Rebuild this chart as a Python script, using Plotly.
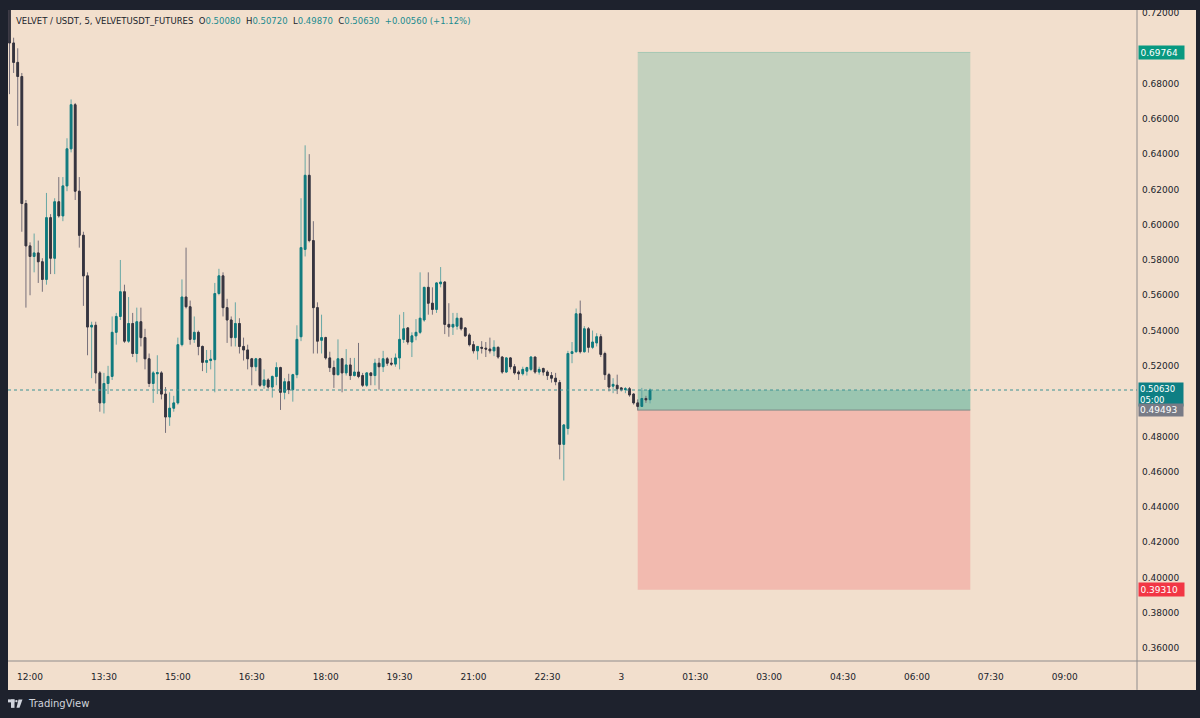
import pandas as pd
import plotly.graph_objects as go

# ---------------- data ----------------
start_time = "2025-06-02 11:35"
opens = [0.722,0.703,0.692,0.684,0.612,0.588,0.582,0.584,0.579,0.569,
         0.604,0.581,0.613,0.605,0.622,0.643,0.668,0.619,0.594,0.571,
         0.542,0.543,0.516,0.499,0.510,0.514,0.539,0.548,0.562,0.534,
         0.544,0.527,0.545,0.536,0.524,0.510,0.5155,0.516,0.504,0.491,
         0.496,0.499,0.532,0.559,0.5535,0.535,0.539,0.531,0.522,0.523,
         0.5235,0.561,0.571,0.553,0.546,0.536,0.544,0.531,0.529,0.524,
         0.5195,0.524,0.509,0.512,0.508,0.514,0.519,0.505,0.511,0.5065,
         0.515,0.5365,0.586,0.628,0.591,0.553,0.5345,0.536,0.5245,0.519,
         0.515,0.524,0.516,0.5205,0.5145,0.5165,0.5145,0.509,0.516,0.5145,
         0.5215,0.5195,0.524,0.5215,0.521,0.5245,0.535,0.5415,0.5335,0.537,
         0.539,0.546,0.5645,0.5555,0.552,0.5665,0.5675,0.5435,0.542,0.5425,
         0.547,0.5415,0.5375,0.532,0.5285,0.5305,0.530,0.5295,0.5285,0.5305,
         0.525,0.5165,0.5245,0.5195,0.5165,0.5155,0.517,0.518,0.525,0.5165,
         0.5185,0.5165,0.5145,0.513,0.5105,0.4755,0.4845,0.527,0.528,0.5495,
         0.528,0.541,0.5305,0.533,0.5365,0.527,0.515,0.5085,0.509,0.5075,
         0.5065,0.507,0.504,0.499,0.497,0.5015,0.5008]
highs = [0.730,0.706,0.700,0.686,0.614,0.590,0.595,0.591,0.581,0.618,
         0.606,0.615,0.627,0.627,0.649,0.671,0.669,0.627,0.596,0.573,
         0.545,0.545,0.517,0.516,0.520,0.548,0.550,0.580,0.566,0.559,
         0.550,0.553,0.553,0.541,0.527,0.517,0.526,0.517,0.508,0.505,
         0.503,0.536,0.569,0.587,0.557,0.548,0.540,0.5315,0.529,0.529,
         0.567,0.575,0.573,0.558,0.548,0.556,0.547,0.536,0.532,0.5245,
         0.5245,0.5245,0.518,0.513,0.5145,0.522,0.5195,0.513,0.5155,0.5155,
         0.543,0.615,0.645,0.640,0.602,0.556,0.549,0.5365,0.528,0.523,
         0.535,0.5245,0.5295,0.5245,0.5245,0.533,0.516,0.5165,0.516,0.524,
         0.5245,0.5285,0.525,0.5245,0.527,0.549,0.5505,0.542,0.539,0.5465,
         0.573,0.5645,0.573,0.5645,0.5675,0.576,0.568,0.5555,0.550,0.550,
         0.547,0.542,0.5385,0.534,0.531,0.534,0.5335,0.536,0.5345,0.531,
         0.5255,0.525,0.525,0.521,0.5175,0.5195,0.5195,0.5255,0.525,0.5195,
         0.519,0.5175,0.5165,0.516,0.512,0.487,0.5285,0.5335,0.5525,0.557,
         0.5425,0.542,0.540,0.5385,0.538,0.528,0.516,0.513,0.515,0.508,
         0.508,0.508,0.5045,0.501,0.5075,0.503,0.5072]
lows = [0.674,0.686,0.656,0.596,0.553,0.560,0.573,0.567,0.562,0.566,
        0.572,0.572,0.604,0.602,0.619,0.641,0.614,0.587,0.554,0.526,
        0.513,0.510,0.494,0.493,0.504,0.512,0.532,0.546,0.533,0.533,
        0.525,0.522,0.531,0.518,0.508,0.499,0.504,0.501,0.482,0.486,
        0.494,0.498,0.531,0.5525,0.532,0.533,0.526,0.517,0.516,0.518,
        0.505,0.560,0.548,0.533,0.531,0.531,0.527,0.523,0.518,0.509,
        0.517,0.508,0.507,0.507,0.502,0.509,0.495,0.501,0.504,0.4997,
        0.513,0.534,0.582,0.590,0.527,0.527,0.527,0.5235,0.5165,0.5075,
        0.5145,0.505,0.5145,0.512,0.514,0.513,0.508,0.508,0.509,0.509,
        0.5065,0.5165,0.520,0.520,0.5195,0.518,0.533,0.532,0.525,0.5345,
        0.538,0.545,0.549,0.549,0.550,0.5645,0.538,0.5365,0.5375,0.5405,
        0.540,0.5365,0.531,0.527,0.5235,0.527,0.525,0.527,0.5255,0.524,
        0.5155,0.516,0.518,0.515,0.512,0.5145,0.5145,0.517,0.5155,0.515,
        0.5145,0.512,0.5105,0.509,0.467,0.455,0.481,0.5215,0.5275,0.527,
        0.5275,0.5275,0.5295,0.531,0.525,0.512,0.5055,0.5045,0.504,0.5055,
        0.5045,0.5025,0.498,0.4947,0.4967,0.499,0.4987]
closes = [0.703,0.692,0.684,0.612,0.588,0.582,0.584,0.579,0.569,0.604,
          0.581,0.613,0.605,0.622,0.643,0.668,0.619,0.594,0.571,0.542,
          0.543,0.516,0.499,0.510,0.514,0.539,0.548,0.562,0.534,0.544,
          0.527,0.545,0.536,0.524,0.510,0.516,0.5162,0.504,0.491,0.496,
          0.499,0.532,0.559,0.5535,0.535,0.539,0.531,0.522,0.523,0.5238,
          0.561,0.571,0.553,0.546,0.536,0.544,0.531,0.529,0.524,0.5195,
          0.524,0.509,0.512,0.508,0.514,0.519,0.505,0.511,0.5065,0.515,
          0.535,0.587,0.628,0.591,0.553,0.534,0.536,0.5245,0.519,0.515,
          0.524,0.516,0.5205,0.5145,0.5165,0.514,0.509,0.516,0.5145,0.5215,
          0.5195,0.524,0.5215,0.521,0.5245,0.535,0.541,0.5335,0.537,0.539,
          0.547,0.5645,0.5555,0.552,0.567,0.5675,0.5435,0.542,0.5435,0.547,
          0.541,0.537,0.532,0.5285,0.531,0.530,0.5295,0.5285,0.5305,0.525,
          0.5165,0.5245,0.5195,0.516,0.5155,0.518,0.519,0.525,0.5165,0.518,
          0.5165,0.5145,0.513,0.511,0.4755,0.4865,0.527,0.528,0.5495,0.528,
          0.541,0.5305,0.5335,0.5365,0.5265,0.515,0.508,0.5095,0.507,0.5065,
          0.507,0.5035,0.499,0.497,0.5015,0.5007,0.5063]

# long-position tool
pos_start = "2025-06-03 00:20"
pos_end = "2025-06-03 07:05"
entry_price = 0.49493
target_price = 0.69764
stop_price = 0.39310
last_price = 0.50630
countdown = "05:00"

x_tick_vals = ["2025-06-02 12:00", "2025-06-02 13:30", "2025-06-02 15:00", "2025-06-02 16:30",
               "2025-06-02 18:00", "2025-06-02 19:30", "2025-06-02 21:00", "2025-06-02 22:30",
               "2025-06-03 00:00", "2025-06-03 01:30", "2025-06-03 03:00", "2025-06-03 04:30",
               "2025-06-03 06:00", "2025-06-03 07:30", "2025-06-03 09:00"]
x_tick_text = ["12:00", "13:30", "15:00", "16:30", "18:00", "19:30", "21:00", "22:30",
               "3", "01:30", "03:00", "04:30", "06:00", "07:30", "09:00"]
# 0.50000 and 0.70000 are hidden behind the price labels in the original
y_tick_vals = [0.36, 0.38, 0.40, 0.42, 0.44, 0.46, 0.48, 0.52, 0.54,
               0.56, 0.58, 0.60, 0.62, 0.64, 0.66, 0.68, 0.72]

times = pd.date_range(start_time, periods=len(closes), freq="5min")

# ---------------- style ----------------
W, H = 1200, 718
ML, MR, MT, MB = 8, 63, 8, 57
PW, PH = W - ML - MR, H - MT - MB
FONT = "DejaVu Sans"
PEACH = "#f2dfcd"
DARK = "#1e222d"
UP_BODY, UP_WICK = "#0f7a7e", "#66a7a5"
DN_BODY, DN_WICK = "#37353f", "#77707a"
TEAL_TXT = "#1b8b8f"
TXT = "#20232b"


def px(xp):
    return (xp - ML) / PW


def py(yp):
    return (H - MB - yp) / PH


fig = go.Figure()

# wicks (full range)
fig.add_trace(go.Candlestick(
    x=times, open=opens, high=highs, low=lows, close=closes,
    increasing=dict(line=dict(color=UP_WICK, width=1), fillcolor=UP_WICK),
    decreasing=dict(line=dict(color=DN_WICK, width=1), fillcolor=DN_WICK),
    hoverinfo="skip", showlegend=False))
# bodies
body_hi = [max(o, c) for o, c in zip(opens, closes)]
body_lo = [min(o, c) for o, c in zip(opens, closes)]
fig.add_trace(go.Candlestick(
    x=times, open=opens, high=body_hi, low=body_lo, close=closes,
    increasing=dict(line=dict(color=UP_BODY, width=1), fillcolor=UP_BODY),
    decreasing=dict(line=dict(color=DN_BODY, width=1), fillcolor=DN_BODY),
    hoverinfo="skip", showlegend=False))

shapes = [
    dict(type="rect", xref="paper", yref="paper", x0=0, x1=px(1196), y0=py(690), y1=1,
         fillcolor=PEACH, line=dict(width=0), layer="below"),
    dict(type="line", xref="paper", yref="paper", x0=1, x1=1, y0=py(690), y1=1,
         line=dict(color="#8f8c8c", width=1)),
    dict(type="line", xref="paper", yref="paper", x0=0, x1=px(1196), y0=0, y1=0,
         line=dict(color="#8f8c8c", width=1)),
    dict(type="rect", xref="x", yref="y", x0=pos_start, x1=pos_end, y0=entry_price, y1=target_price,
         fillcolor="rgba(8,153,129,0.2)", line=dict(width=0), layer="below"),
    dict(type="rect", xref="x", yref="y", x0=pos_start, x1=pos_end, y0=stop_price, y1=entry_price,
         fillcolor="rgba(242,54,69,0.22)", line=dict(width=0), layer="below"),
    dict(type="rect", xref="x", yref="y", x0=pos_start, x1=pos_end, y0=entry_price, y1=last_price,
         fillcolor="rgba(8,153,129,0.22)", line=dict(width=0), layer="below"),
    dict(type="line", xref="x", yref="y", x0=pos_start, x1=pos_end, y0=target_price, y1=target_price,
         line=dict(color="rgba(8,153,129,0.25)", width=1)),
    dict(type="line", xref="x", yref="y", x0=pos_start, x1=pos_end, y0=entry_price, y1=entry_price,
         line=dict(color="#7d8a87", width=1)),
    dict(type="line", xref="paper", yref="y", x0=0, x1=1, y0=last_price, y1=last_price,
         line=dict(color="#3d9294", width=1, dash="dot")),
    # TradingView logo
    dict(type="rect", xref="paper", yref="paper", x0=px(8), x1=px(14.5), y0=py(702.5), y1=py(699.5),
         fillcolor="#d1d4dc", line=dict(width=0)),
    dict(type="rect", xref="paper", yref="paper", x0=px(11), x1=px(14.5), y0=py(708), y1=py(699.5),
         fillcolor="#d1d4dc", line=dict(width=0)),
    dict(type="circle", xref="paper", yref="paper", x0=px(15.2), x1=px(17.6), y0=py(702.4), y1=py(700),
         fillcolor="#d1d4dc", line=dict(width=0)),
    dict(type="path", xref="paper", yref="paper",
         path=f"M {px(18.5)} {py(699.5)} L {px(22.5)} {py(699.5)} L {px(19.5)} {py(708)} L {px(16.5)} {py(708)} Z",
         fillcolor="#d1d4dc", line=dict(width=0)),
]

chg = closes[-1] - closes[-2]
header = (f"<span style='color:{TXT}'>VELVET / USDT, 5, VELVETUSDT_FUTURES&nbsp;&nbsp;O</span>"
          f"<span style='color:{TEAL_TXT}'>{opens[-1]:.5f}</span>"
          f"<span style='color:{TXT}'>&nbsp;&nbsp;H</span><span style='color:{TEAL_TXT}'>{highs[-1]:.5f}</span>"
          f"<span style='color:{TXT}'>&nbsp;&nbsp;L</span><span style='color:{TEAL_TXT}'>{lows[-1]:.5f}</span>"
          f"<span style='color:{TXT}'>&nbsp;&nbsp;C</span><span style='color:{TEAL_TXT}'>{closes[-1]:.5f}</span>"
          f"<span style='color:{TEAL_TXT}'>&nbsp;&nbsp;+{chg:.5f} "
          f"(+{chg / closes[-2] * 100:.2f}%)</span>")

annotations = [
    dict(xref="paper", yref="paper", x=px(14), y=py(19), xanchor="left", yanchor="middle",
         text=header, showarrow=False, font=dict(family=FONT, size=8.5)),
    dict(xref="paper", yref="paper", x=px(26), y=py(704), xanchor="left", yanchor="middle",
         text="TradingView", showarrow=False, font=dict(family=FONT, size=10, color="#d1d4dc")),
]


def price_label(val, color, text=None, size=9, pad=1.5):
    return dict(xref="paper", yref="y", x=1, y=val, xanchor="left", yanchor="middle", xshift=1,
                text=text or f"{val:.5f}", showarrow=False, align="left", width=42,
                bgcolor=color, borderpad=pad,
                font=dict(family=FONT, size=size, color="white"))


annotations += [
    price_label(target_price, "#089981"),
    dict(price_label(last_price, "#0e7f84", f"{last_price:.5f}<br>{countdown}", size=8.5, pad=1),
         yanchor="top", yshift=8),
    price_label(entry_price, "#787b86", pad=1),
    price_label(stop_price, "#f23645"),
]

fig.update_layout(
    width=W, height=H,
    margin=dict(l=ML, r=MR, t=MT, b=MB),
    paper_bgcolor=DARK, plot_bgcolor=PEACH,
    showlegend=False, boxgap=0.42,
    shapes=shapes, annotations=annotations,
    xaxis=dict(type="date", range=["2025-06-02 11:33:10", "2025-06-03 10:28"],
               rangeslider=dict(visible=False), showgrid=False, zeroline=False, showline=False,
               tickvals=x_tick_vals, ticktext=x_tick_text, ticks="", ticklabelstandoff=9,
               tickfont=dict(family=FONT, size=9, color=TXT)),
    yaxis=dict(side="right", range=[0.3527, 0.7217], showgrid=False, zeroline=False, showline=False,
               tickvals=y_tick_vals, tickformat=".5f", ticks="", ticklabelstandoff=4,
               tickfont=dict(family=FONT, size=9, color=TXT)),
)

fig.write_html("out.html")
